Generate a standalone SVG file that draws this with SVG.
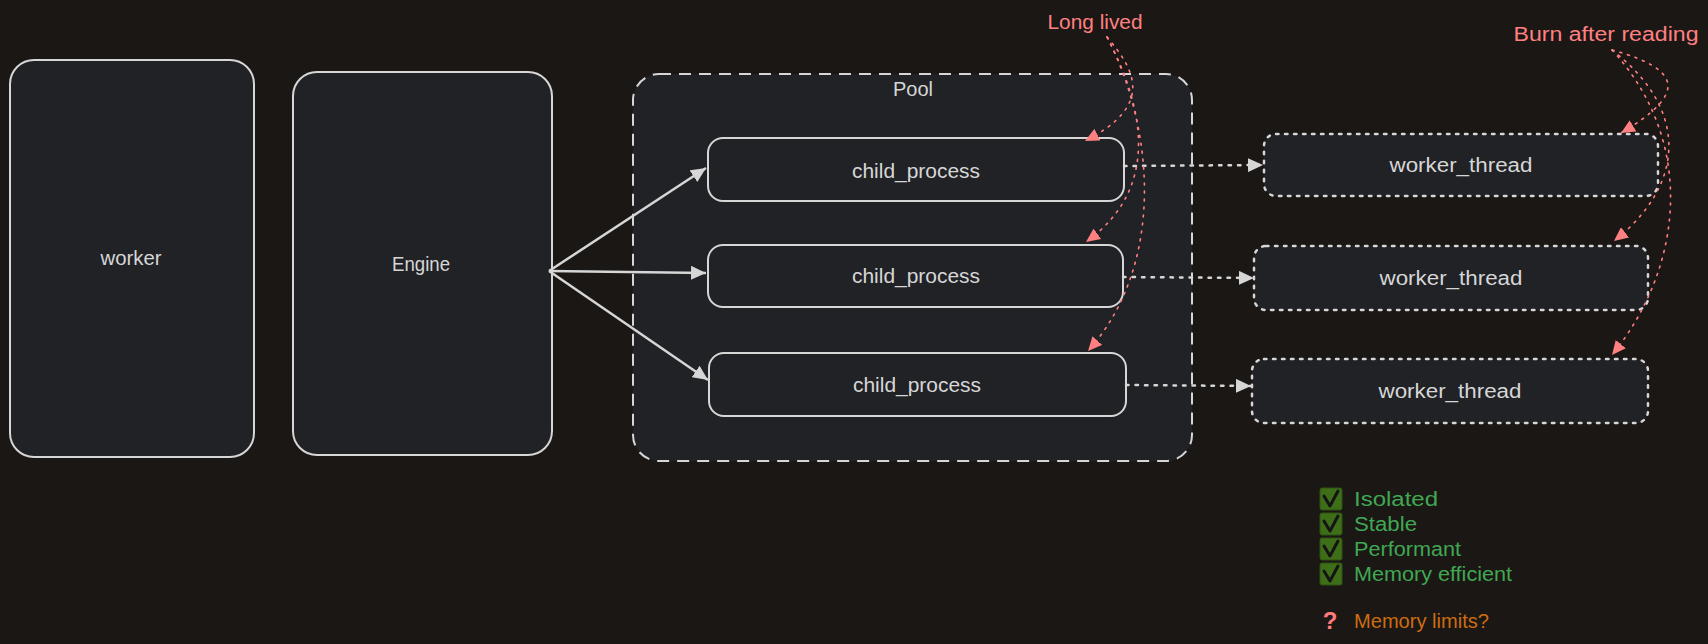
<svg xmlns="http://www.w3.org/2000/svg" width="1708" height="644" viewBox="0 0 1708 644">
<defs>
<style>
.box{fill:#212226;stroke:#d6d6d6;stroke-width:2}
.pool{fill:#212226;stroke:#d6d6d6;stroke-width:2;stroke-dasharray:12 8}
.wt{fill:#212226;stroke:#d6d6d6;stroke-width:2.5;stroke-dasharray:2.5 6.5;stroke-linecap:round}
.lbl{font-family:"Liberation Sans",Arial,sans-serif;font-size:20px;fill:#d6d6d6;text-anchor:middle;dominant-baseline:central}
.red{font-family:"Liberation Sans",Arial,sans-serif;font-size:20px;fill:#ff8080;text-anchor:middle;dominant-baseline:central}
.grn{font-family:"Liberation Sans",Arial,sans-serif;font-size:20px;fill:#40a852;dominant-baseline:central}
.org{font-family:"Liberation Sans",Arial,sans-serif;font-size:20px;fill:#cc6d12;dominant-baseline:central}
.solid{fill:none;stroke:#d6d6d6;stroke-width:2.5;marker-end:url(#ag)}
.dot{fill:none;stroke:#d6d6d6;stroke-width:2.5;stroke-dasharray:2.5 7;stroke-linecap:round;marker-end:url(#ag)}
.rdot{fill:none;stroke:#ff8080;stroke-width:1.6;stroke-dasharray:2 6;stroke-linecap:round;marker-end:url(#ar)}
.chk{fill:#3f6e19;stroke:#2f5512;stroke-width:1}
.tick{fill:none;stroke:#141414;stroke-width:3;stroke-linecap:round;stroke-linejoin:round}
</style>
<marker id="ag" markerUnits="userSpaceOnUse" markerWidth="16" markerHeight="14" refX="15" refY="7" orient="auto">
<path d="M0,0 L15,7 L0,14 z" fill="#d6d6d6"/>
</marker>
<marker id="ar" markerUnits="userSpaceOnUse" markerWidth="15" markerHeight="13" refX="14" refY="6.5" orient="auto">
<path d="M0,0 L14,6.5 L0,13 z" fill="#ff8080"/>
</marker>
</defs>
<rect width="1708" height="644" fill="#1b1715"/>

<g id="worker">
<rect class="box" x="10" y="60" width="244" height="397" rx="24"/>
<text class="lbl" x="131" y="258" textLength="61" lengthAdjust="spacingAndGlyphs">worker</text>
</g>
<g id="engine">
<rect class="box" x="293" y="72" width="259" height="383" rx="24"/>
<text class="lbl" x="421" y="264" textLength="58" lengthAdjust="spacingAndGlyphs">Engine</text>
</g>
<g id="pool">
<rect class="pool" x="633" y="74" width="559" height="387" rx="26"/>
<text class="lbl" x="913" y="89" textLength="40" lengthAdjust="spacingAndGlyphs">Pool</text>
</g>
<g id="child1">
<rect class="box" x="708" y="138" width="416" height="63" rx="15"/>
<text class="lbl" x="916" y="171" textLength="128" lengthAdjust="spacingAndGlyphs">child_process</text>
</g>
<g id="child2">
<rect class="box" x="708" y="245" width="415" height="62" rx="15"/>
<text class="lbl" x="916" y="276" textLength="128" lengthAdjust="spacingAndGlyphs">child_process</text>
</g>
<g id="child3">
<rect class="box" x="709" y="353" width="417" height="63" rx="15"/>
<text class="lbl" x="917" y="385" textLength="128" lengthAdjust="spacingAndGlyphs">child_process</text>
</g>
<g id="wt1">
<rect class="wt" x="1264" y="134" width="394" height="62" rx="12"/>
<text class="lbl" x="1461" y="165" textLength="143" lengthAdjust="spacingAndGlyphs">worker_thread</text>
</g>
<g id="wt2">
<rect class="wt" x="1254" y="246" width="394" height="64" rx="12"/>
<text class="lbl" x="1451" y="278" textLength="143" lengthAdjust="spacingAndGlyphs">worker_thread</text>
</g>
<g id="wt3">
<rect class="wt" x="1252" y="359" width="396" height="64" rx="12"/>
<text class="lbl" x="1450" y="391" textLength="143" lengthAdjust="spacingAndGlyphs">worker_thread</text>
</g>
<g id="note-long">
<text class="red" x="1095" y="22" textLength="95" lengthAdjust="spacingAndGlyphs">Long lived</text>
</g>
<g id="note-burn">
<text class="red" x="1606" y="34" textLength="185" lengthAdjust="spacingAndGlyphs">Burn after reading</text>
</g>
<g id="checklist">
<rect class="chk" x="1320" y="488" width="22" height="22" rx="2"/>
<path class="tick" d="M1324,496 L1330,506 L1338,491"/>
<text class="grn" x="1354" y="499" textLength="84" lengthAdjust="spacingAndGlyphs">Isolated</text>
<rect class="chk" x="1320" y="513" width="22" height="22" rx="2"/>
<path class="tick" d="M1324,521 L1330,531 L1338,516"/>
<text class="grn" x="1354" y="524" textLength="63" lengthAdjust="spacingAndGlyphs">Stable</text>
<rect class="chk" x="1320" y="538" width="22" height="22" rx="2"/>
<path class="tick" d="M1324,546 L1330,556 L1338,541"/>
<text class="grn" x="1354" y="549" textLength="107" lengthAdjust="spacingAndGlyphs">Performant</text>
<rect class="chk" x="1320" y="563" width="22" height="22" rx="2"/>
<path class="tick" d="M1324,571 L1330,581 L1338,566"/>
<text class="grn" x="1354" y="574" textLength="158" lengthAdjust="spacingAndGlyphs">Memory efficient</text>
<text x="1330" y="620" font-family="'Liberation Sans',Arial,sans-serif" font-size="24" font-weight="bold" fill="#ff7b7b" text-anchor="middle" dominant-baseline="central">?</text>
<text class="org" x="1354" y="621" textLength="135" lengthAdjust="spacingAndGlyphs">Memory limits?</text>
</g>

<g id="connectors">
<path class="solid" d="M549,271 L706,168"/>
<path class="solid" d="M549,271 L706,273"/>
<path class="solid" d="M549,271 L708,380"/>
<path class="dot" d="M1124,166 L1263,165"/>
<path class="dot" d="M1123,277 L1254,278"/>
<path class="dot" d="M1126,385 L1251,386"/>
<path class="rdot" d="M1107,37 C1135,70 1155,105 1085,141"/>
<path class="rdot" d="M1107,37 C1140,100 1165,185 1086,242"/>
<path class="rdot" d="M1107,37 C1155,130 1165,265 1088,351"/>
<path class="rdot" d="M1612,50 C1685,70 1685,95 1621,133"/>
<path class="rdot" d="M1612,50 C1690,110 1685,185 1614,241"/>
<path class="rdot" d="M1612,50 C1695,140 1685,265 1612,355"/>
</g>
</svg>
